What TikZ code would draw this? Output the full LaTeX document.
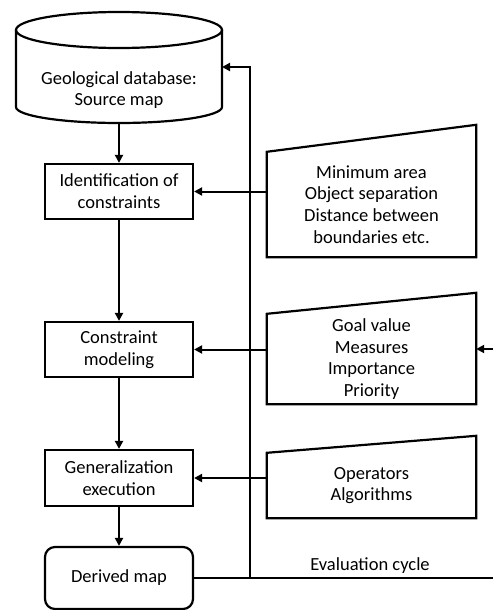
\documentclass[tikz,border=0pt]{standalone}
\usepackage{fontspec}
\setmainfont{Carlito}
\usetikzlibrary{arrows.meta}
\begin{document}
\begin{tikzpicture}[x=1pt,y=-1pt,
  every node/.style={font=\fontsize{18.5}{21.8}\selectfont, align=center, inner sep=0pt},
  stepbox/.style={draw, line width=2.2pt, minimum width=148pt, minimum height=55pt},
  inbox/.style={minimum width=209pt},
  frame/.style={line width=2.2pt, line join=miter},
  conn/.style={line width=2pt},
  arr/.style={conn, -{Triangle[length=8pt,width=8pt]}}]
\useasboundingbox (0,0) rectangle (493,610);
% database cylinder
\node (db) at (119,90) {Geological database:\\Source map};
\draw[frame] (16,30) -- (16,107) arc (180:0:103 and 16) -- (222,30);
\draw[frame] (119,30) ellipse [x radius=103, y radius=18];
\coordinate (dbbot) at (119,123);
\coordinate (dbin) at (222,67);
% process boxes
\node[stepbox] (id) at (119,191.5) {Identification of\\constraints};
\node[stepbox] (cm) at (119,349.5) {Constraint\\modeling};
\node[stepbox, minimum height=56pt] (ge) at (119,478) {Generalization\\execution};
\node[stepbox, rounded corners=10pt, minimum height=62pt] (dm) at (119,578) {Derived map};
% input trapezoids
\node[inbox, minimum height=105pt] (c1) at (371.5,204.5) {Minimum area\\Object separation\\Distance between\\boundaries etc.};
\draw[frame] (c1.south west) -- (c1.north west) -- ([yshift=27pt]c1.north east) -- (c1.south east) -- cycle;
\node[inbox, minimum height=90pt] (c2) at (371.5,359) {Goal value\\Measures\\Importance\\Priority};
\draw[frame] (c2.south west) -- (c2.north west) -- ([yshift=21pt]c2.north east) -- (c2.south east) -- cycle;
\node[inbox, minimum height=65pt] (c3) at (371.5,485.5) {Operators\\Algorithms};
\draw[frame] (c3.south west) -- (c3.north west) -- ([yshift=17pt]c3.north east) -- (c3.south east) -- cycle;
% main flow
\draw[arr] (dbbot) -- (id.north);
\draw[arr] (id.south) -- (cm.north);
\draw[arr] (cm.south) -- (ge.north);
\draw[arr] (ge.south) -- (dm.north);
% inputs
\draw[arr] (c1.west |- id.east) -- (id.east);
\draw[arr] (c2.west |- cm.east) -- (cm.east);
\draw[arr] (c3.west |- ge.east) -- (ge.east);
% evaluation cycle
\coordinate (vb) at (250,578);
\coordinate (vt) at (250,67);
\coordinate (re) at (493,578);
\coordinate (rin) at (493,349);
\draw[conn] (dm.east) -- (re);
\draw[arr] (vb) -- (vt) -- (dbin);
\draw[arr] (rin) -- (c2.east |- rin);
\node (ev) at (370,566) {Evaluation cycle};
\end{tikzpicture}
\end{document}
